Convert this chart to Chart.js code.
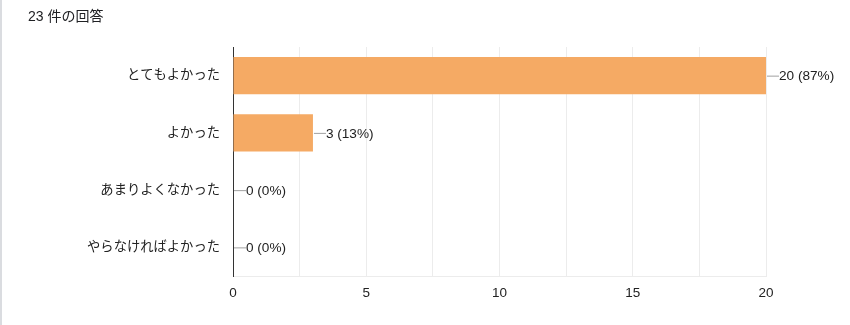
<!DOCTYPE html>
<html>
<head>
<meta charset="utf-8">
<script src="https://cdn.jsdelivr.net/npm/chart.js@4"></script>
<style>
  html, body { margin: 0; padding: 0; background: #fff; }
  #wrap { position: relative; width: 850px; height: 325px; }
  #edge { position: absolute; left: 0; top: 0; width: 2px; height: 325px; background: #dadce0; }
  #title { position: absolute; left: 28px; top: 5px; font: 14px "Liberation Sans", "Noto Sans CJK JP", sans-serif; color: #202124; }
</style>
</head>
<body>
<div id="wrap">
  <div id="edge"></div>
  <div id="title">23 件の回答</div>
  <canvas id="myBar" width="850" height="325"></canvas>
</div>
<script>
const answers = ['とてもよかった', 'よかった', 'あまりよくなかった', 'やらなければよかった']
const counts = [20, 3, 0, 0]
const tickValues = [0, 5, 10, 15, 20]

const total = counts.reduce((a, b) => a + b, 0)
const FONT = '"Liberation Sans", "Noto Sans CJK JP", sans-serif'

// value labels with a short leader line
const valueLabels = {
    id: 'valueLabels',
    afterDatasetsDraw(chart) {
        const c = chart.ctx
        const meta = chart.getDatasetMeta(0)
        c.save()
        c.font = '13.6px ' + FONT
        c.textBaseline = 'middle'
        c.textAlign = 'left'
        meta.data.forEach((bar, i) => {
            const x = bar.x
            const y = bar.y
            c.strokeStyle = '#a0a0a0'
            c.lineWidth = 1
            c.beginPath()
            c.moveTo(x + 1, y + 0.5)
            c.lineTo(x + 13, y + 0.5)
            c.stroke()
            c.fillStyle = '#222'
            const pct = Math.round(counts[i] / total * 100)
            c.fillText(counts[i] + ' (' + pct + '%)', x + 13, y + 1)
        })
        c.restore()
    }
}

const ctx = document.getElementById('myBar')
const myChart = new Chart(ctx, {
    type: 'bar',
    data: {
        labels: answers,
        datasets: [{
            data: counts,
            backgroundColor: '#f5aa64',
            borderWidth: 0,
            barPercentage: 0.65,
            categoryPercentage: 1
        }]
    },
    options: {
        indexAxis: 'y',
        responsive: false,
        animation: false,
        layout: { padding: { left: 0, top: 47, right: 84, bottom: 0 } },
        plugins: { legend: { display: false }, tooltip: { enabled: false } },
        scales: {
            x: {
                min: 0,
                max: 20,
                afterFit(s) { s.height = 49 },
                afterBuildTicks(s) {
                    s.ticks = []
                    for (let v = 0; v <= 20; v += 2.5) s.ticks.push({ value: v })
                },
                ticks: {
                    padding: 9,
                    color: '#222',
                    font: { size: 13.5, family: FONT },
                    callback: v => tickValues.includes(v) ? String(v) : ''
                },
                grid: { color: '#ececec', drawTicks: false },
                border: { color: '#ececec' }
            },
            y: {
                afterFit(s) { s.width = 233 },
                ticks: {
                    padding: 13,
                    color: '#222',
                    font: { size: 13.3, family: FONT }
                },
                grid: { display: false, drawTicks: false },
                border: { color: '#333', width: 1 }
            }
        }
    },
    plugins: [valueLabels]
})
</script>
</body>
</html>
